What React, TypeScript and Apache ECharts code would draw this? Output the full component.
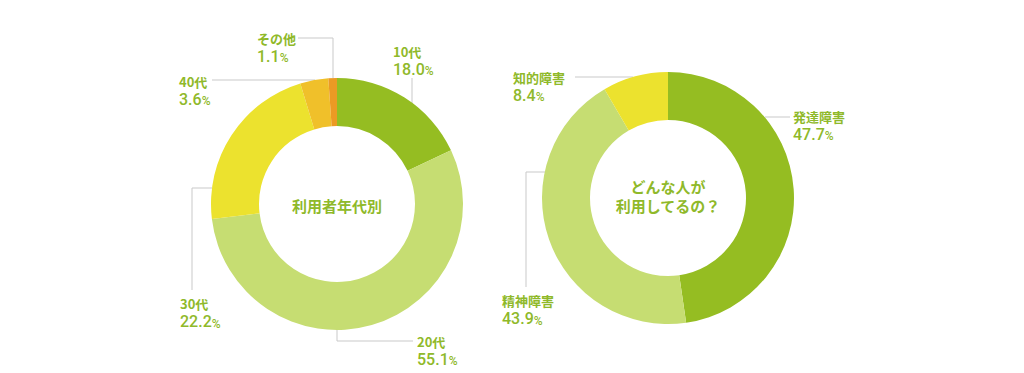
import React, { useEffect, useRef } from "react";
import * as echarts from "echarts";

const ageNames = ["10代", "20代", "30代", "40代", "その他"];
const ageValues = [18.0, 55.1, 22.2, 3.6, 1.1];
const ageColors = ["#95bd22", "#c6dd72", "#ece22e", "#f0c02a", "#ec9a24"];

const typeNames = ["発達障害", "精神障害", "知的障害"];
const typeValues = [47.7, 43.9, 8.4];
const typeColors = ["#95bd22", "#c6dd72", "#ece22e"];

const leftTitle = "利用者年代別";
const rightTitle = "どんな人が\n利用してるの？";

const TEXT_GREEN = "#8fb92a";
const LINE_GRAY = "#c9c9c9";

const LEFT_CENTER = [337, 204];
const RIGHT_CENTER = [668, 198];
const RADIUS = [78, 126];

// label placement relative to each pie's centre: text top-left and leader-line points
const ageLabelLayout = [
  { text: [56, -161], line: [[75, -101], [75, -126]] },
  { text: [80, 129], line: [[0, 126], [0, 137], [76, 137]] },
  { text: [-157, 91.5], line: [[-125, -16], [-145, -16], [-145, 86]] },
  { text: [-158, -131], line: [[-22, -124], [-125, -124]] },
  { text: [-80, -174], line: [[-4, -126], [-4, -166], [-39, -166]] },
];
const typeLabelLayout = [
  { text: [125, -90], line: [[97, -81], [122, -81]] },
  { text: [-166, 94.5], line: [[-123, -26], [-142, -26], [-142, 89]] },
  { text: [-155, -129], line: [[-35, -121], [-93, -121]] },
];

const richStyles = {
  n: {
    fontSize: 13,
    fontWeight: "bold",
    color: TEXT_GREEN,
    lineHeight: 16,
    fontFamily: "Noto Sans CJK JP",
  },
  v: {
    fontSize: 16,
    fontWeight: 500,
    color: TEXT_GREEN,
    lineHeight: 18,
    fontFamily: "Roboto",
    verticalAlign: "bottom",
  },
  p: {
    fontSize: 12,
    fontWeight: 500,
    color: TEXT_GREEN,
    lineHeight: 18,
    fontFamily: "Roboto",
    verticalAlign: "bottom",
  },
};

function makeSeries(
  names: string[],
  values: number[],
  colors: string[],
  center: number[],
  layout: { text: number[]; line: number[][] }[]
) {
  return {
    type: "pie",
    center,
    radius: RADIUS,
    startAngle: 90,
    clockwise: true,
    avoidLabelOverlap: false,
    emphasis: { disabled: true },
    itemStyle: { borderWidth: 0 },
    data: names.map((n, i) => ({
      name: n,
      value: values[i],
      itemStyle: { color: colors[i] },
    })),
    label: {
      show: true,
      position: "outside",
      formatter: (p: any) =>
        `{n|${p.name}}\n{v|${Number(p.value).toFixed(1)}}{p|%}`,
      rich: richStyles,
    },
    labelLine: {
      show: true,
      length: 10,
      length2: 10,
      smooth: false,
      lineStyle: { color: LINE_GRAY, width: 1 },
    },
    labelLayout: (params: any) => {
      const l = layout[params.dataIndex];
      return {
        x: center[0] + l.text[0],
        y: center[1] + l.text[1],
        align: "left",
        verticalAlign: "top",
        labelLinePoints: l.line.map((pt) => [center[0] + pt[0], center[1] + pt[1]]),
      };
    },
  };
}

export default function App() {
  const ref = useRef<HTMLDivElement>(null);
  useEffect(() => {
    document.body.style.margin = "0";
    const chart = echarts.init(ref.current!, null, { renderer: "svg" });
    chart.setOption({
      animation: false,
      backgroundColor: "#ffffff",
      series: [
        makeSeries(ageNames, ageValues, ageColors, LEFT_CENTER, ageLabelLayout),
        makeSeries(typeNames, typeValues, typeColors, RIGHT_CENTER, typeLabelLayout),
      ],
      graphic: [
        {
          type: "text",
          x: LEFT_CENTER[0],
          y: LEFT_CENTER[1] + 1,
          style: {
            text: leftTitle,
            fill: TEXT_GREEN,
            fontSize: 15,
            fontWeight: "bold",
            fontFamily: "Noto Sans CJK JP",
            align: "center",
            verticalAlign: "middle",
          },
        },
        {
          type: "text",
          x: RIGHT_CENTER[0],
          y: RIGHT_CENTER[1] - 2,
          style: {
            text: rightTitle,
            fill: TEXT_GREEN,
            fontSize: 15,
            fontWeight: "bold",
            fontFamily: "Noto Sans CJK JP",
            lineHeight: 19,
            align: "center",
            verticalAlign: "middle",
          },
        },
      ],
    });
    return () => chart.dispose();
  }, []);
  return <div ref={ref} style={{ width: 1024, height: 373 }} />;
}
